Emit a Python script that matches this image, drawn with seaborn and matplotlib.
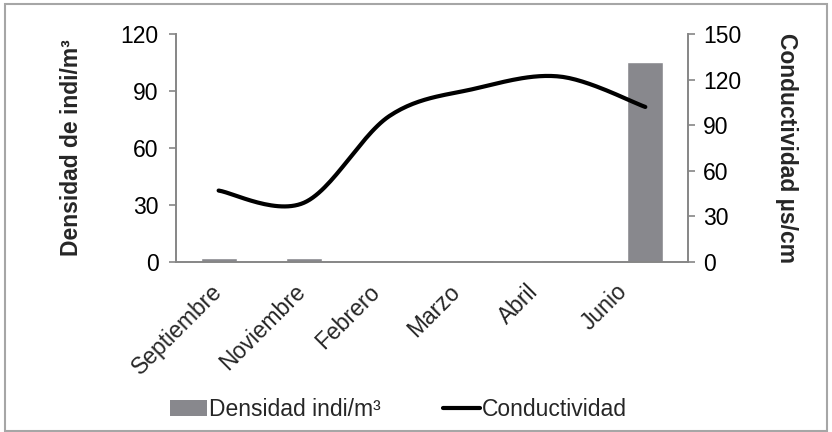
import matplotlib
matplotlib.use("Agg")
import matplotlib.pyplot as plt
import matplotlib.transforms as mtransforms
import seaborn as sns
import numpy as np
import pandas as pd
from matplotlib.patches import Rectangle, Patch
from matplotlib.lines import Line2D

meses = ["Septiembre", "Noviembre", "Febrero", "Marzo", "Abril", "Junio"]
densidad = [2.2, 2.2, 1.1, 1.1, 1.1, 105]
conductividad = [47, 39, 96, 114, 122, 102]

GRIS_EJE = "#868686"
GRIS_BARRA = "#88888d"
FS = 16.5


def curva_suave(x, y, pasos=30):
    # Excel-style smoothed line (Catmull-Rom between the points)
    x = np.asarray(x, float)
    y = np.asarray(y, float)
    px = np.concatenate([[x[0]], x, [x[-1]]])
    py = np.concatenate([[y[0]], y, [y[-1]]])
    xs, ys = [], []
    for i in range(1, len(px) - 2):
        t = np.linspace(0, 1, pasos)
        for p, out in ((px, xs), (py, ys)):
            p0, p1, p2, p3 = p[i - 1], p[i], p[i + 1], p[i + 2]
            c1 = p1 + (p2 - p0) / 6
            c2 = p2 - (p3 - p1) / 6
            out.extend((1 - t) ** 3 * p1 + 3 * (1 - t) ** 2 * t * c1
                       + 3 * (1 - t) * t ** 2 * c2 + t ** 3 * p2)
    return np.array(xs), np.array(ys)


sns.set_theme(style="white")
plt.rcParams["font.family"] = ["Liberation Sans", "DejaVu Sans"]

df = pd.DataFrame({"mes": meses, "densidad": densidad})

fig = plt.figure(figsize=(8.32, 4.32), dpi=100)
ax = fig.add_axes([0.2115, 0.3935, 0.6154, 0.5278])

sns.barplot(data=df, x="mes", y="densidad", order=meses, color=GRIS_BARRA,
            saturation=1, width=0.42, ax=ax)
ax.set_xlim(-0.5, len(meses) - 0.5)
ax.set_ylim(0, 120)
ax.set_yticks([0, 30, 60, 90, 120])
ax.set_xlabel("")
ax.set_ylabel("Densidad de indi/m³", fontsize=FS, fontweight="bold", labelpad=27)

ax2 = ax.twinx()
xs, ys = curva_suave(range(len(meses)), conductividad)
ax2.plot(xs, ys, color="black", lw=3, solid_capstyle="round")
ax2.set_ylim(0, 150)
ax2.set_yticks([0, 30, 60, 90, 120, 150])
ax2.set_ylabel("Conductividad µs/cm", fontsize=FS, fontweight="bold",
               rotation=270, labelpad=41)

for a in (ax, ax2):
    for s in a.spines.values():
        s.set_visible(False)
    a.grid(False)
ax.tick_params(axis="y", labelsize=FS, colors=GRIS_EJE, labelcolor="black",
               length=5, width=1.2, direction="out", pad=7.5)
ax2.tick_params(axis="y", labelsize=FS, colors=GRIS_EJE, labelcolor="black",
                length=5, width=1.2, direction="out", pad=6)

ax.spines["left"].set_visible(True)
ax.spines["bottom"].set_visible(True)
ax2.spines["right"].set_visible(True)
for s in (ax.spines["left"], ax.spines["bottom"], ax2.spines["right"]):
    s.set_color(GRIS_EJE)
    s.set_linewidth(1.4)

ax.tick_params(axis="x", length=0, labelsize=FS, pad=13)
ax.set_xticks(range(len(meses)))
ax.set_xticklabels(meses, rotation=45, ha="center", va="top")
desplaza = mtransforms.ScaledTranslation(-41 / 100, 0, fig.dpi_scale_trans)
for lab in ax.get_xticklabels():
    lab.set_transform(lab.get_transform() + desplaza)

handles = [Patch(facecolor=GRIS_BARRA, edgecolor="none", label="Densidad indi/m³"),
           Line2D([0], [0], color="black", lw=3, label="Conductividad")]
fig.legend(handles=handles, loc="center", bbox_to_anchor=(0.479, 0.051), ncol=2,
           frameon=False, fontsize=FS, handlelength=1.6, handletextpad=0.1,
           columnspacing=2.7, handleheight=0.7)

fig.patches.append(Rectangle((0.006, 0.003), 0.988, 0.988, transform=fig.transFigure,
                             fill=False, edgecolor="#a6a6a6", lw=1.5))

fig.savefig("out.png", dpi=100)
